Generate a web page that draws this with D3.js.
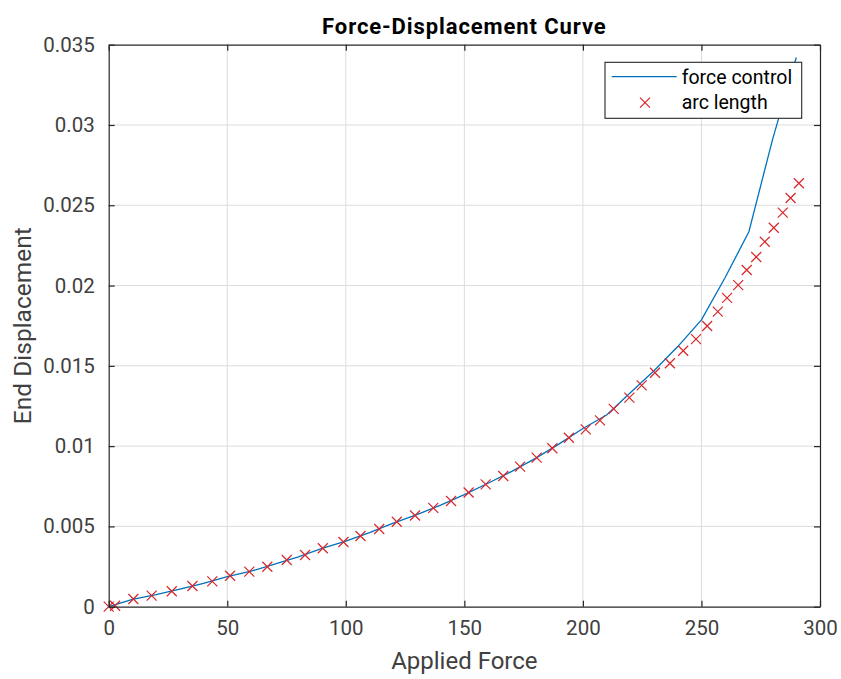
<!DOCTYPE html>
<html>
<head>
<meta charset="utf-8">
<script src="https://cdn.jsdelivr.net/npm/d3@7"></script>
<style>
  html, body { margin: 0; padding: 0; background: #fff; }
  svg { display: block; font-family: Roboto, "Noto Sans", sans-serif; }
</style>
</head>
<body>
<svg id="chart" width="841" height="679"></svg>
<script>
// Force control: displacement at each applied load step
const forceLoads = [0, 10, 20, 30, 40, 50, 60, 70, 80, 90, 100, 110, 120, 130, 140,
  150, 160, 170, 180, 190, 200, 210, 220, 230, 240, 250, 260, 270, 280, 290];
const forceDisp = [0, 0.00046, 0.00075, 0.00109, 0.00145, 0.00188, 0.00221, 0.00265,
  0.00311, 0.00363, 0.00408, 0.00461, 0.00520, 0.00573, 0.00633, 0.00698, 0.00769,
  0.00843, 0.00924, 0.01014, 0.01110, 0.01194, 0.01332, 0.01470, 0.01620, 0.01786,
  0.02050, 0.02335, 0.02910, 0.03420];

// Arc-length solution: load / displacement pairs
const arcLoads = [0, 2.7, 10.4, 18.1, 26.6, 35.3, 43.7, 51.2, 59.3, 66.9, 75.1, 82.8,
  90.3, 99.0, 106.2, 114.1, 121.5, 129.2, 136.9, 144.4, 151.8, 159.0, 166.4, 173.5,
  180.5, 187.1, 194.1, 201.2, 207.2, 213.0, 219.6, 224.8, 230.4, 236.7, 242.3, 247.7,
  252.4, 256.9, 260.8, 265.5, 269.1, 273.1, 276.7, 280.5, 284.3, 287.6, 291.1];
const arcDisp = [0, 0.00006, 0.00048, 0.00069, 0.00096, 0.00129, 0.00158, 0.00193,
  0.00218, 0.00249, 0.00291, 0.00322, 0.00364, 0.00403, 0.00440, 0.00484, 0.00529,
  0.00568, 0.00615, 0.00658, 0.00711, 0.00762, 0.00814, 0.00872, 0.00928, 0.00987,
  0.01052, 0.01104, 0.01160, 0.01232, 0.01302, 0.01378, 0.01457, 0.01516, 0.01594,
  0.01666, 0.01748, 0.01838, 0.01923, 0.02003, 0.02097, 0.02178, 0.02273, 0.02360,
  0.02454, 0.02545, 0.02637];

const xTicks = [0, 50, 100, 150, 200, 250, 300];
const yTicks = [0, 0.005, 0.01, 0.015, 0.02, 0.025, 0.03, 0.035];
const yTickLabels = ["0", "0.005", "0.01", "0.015", "0.02", "0.025", "0.03", "0.035"];
const seriesNames = ["force control", "arc length"];

const svg = d3.select("#chart");
const plotL = 108.7, plotR = 820, plotT = 44.7, plotB = 606.7;

const x = d3.scaleLinear().domain([0, 300]).range([plotL, plotR]);
const y = d3.scaleLinear().domain([0, 0.035]).range([plotB, plotT]);

const axisColor = "#262626";
const labelColor = "#404040";
const gridColor = "#dcdcdc";
const blue = "#0072bd";
const red = "#d9262b";

// grid
const grid = svg.append("g");
grid.selectAll("line.gx").data(xTicks.slice(1, -1)).join("line")
  .attr("class", "gx")
  .attr("x1", d => x(d)).attr("x2", d => x(d))
  .attr("y1", plotT).attr("y2", plotB)
  .attr("stroke", gridColor).attr("stroke-width", 1);
grid.selectAll("line.gy").data(yTicks.slice(1, -1)).join("line")
  .attr("class", "gy")
  .attr("x1", plotL).attr("x2", plotR)
  .attr("y1", d => y(d)).attr("y2", d => y(d))
  .attr("stroke", gridColor).attr("stroke-width", 1);

// clip for data
svg.append("clipPath").attr("id", "plotClip")
  .append("rect").attr("x", plotL).attr("y", plotT)
  .attr("width", plotR - plotL).attr("height", plotB - plotT);

const plot = svg.append("g").attr("clip-path", "url(#plotClip)");

const line = d3.line().x(d => x(d[0])).y(d => y(d[1]));
plot.append("path")
  .datum(d3.zip(forceLoads, forceDisp))
  .attr("d", line)
  .attr("fill", "none")
  .attr("stroke", blue)
  .attr("stroke-width", 1.3);

const ms = 5;
const crossPath = `M${-ms},${-ms}L${ms},${ms}M${-ms},${ms}L${ms},${-ms}`;
svg.append("g").selectAll("path").data(d3.zip(arcLoads, arcDisp)).join("path")
  .attr("transform", d => `translate(${x(d[0])},${y(d[1])})`)
  .attr("d", crossPath)
  .attr("fill", "none")
  .attr("stroke", red)
  .attr("stroke-width", 1.2);

// axes: box with inward ticks on all sides
const tickLen = 6;
const xAxisB = d3.axisBottom(x).tickValues(xTicks).tickSizeInner(-tickLen).tickSizeOuter(0)
  .tickPadding(tickLen + 8).tickFormat(d3.format("d"));
const xAxisT = d3.axisTop(x).tickValues(xTicks).tickSizeInner(-tickLen).tickSizeOuter(0).tickFormat("");
const yAxisL = d3.axisLeft(y).tickValues(yTicks).tickSizeInner(-tickLen).tickSizeOuter(0)
  .tickPadding(tickLen + 8).tickFormat((d, i) => yTickLabels[i]);
const yAxisR = d3.axisRight(y).tickValues(yTicks).tickSizeInner(-tickLen).tickSizeOuter(0).tickFormat("");

function styleAxis(g) {
  g.select(".domain").attr("stroke", axisColor).attr("stroke-width", 1.2);
  g.selectAll(".tick line").attr("stroke", axisColor).attr("stroke-width", 1.2);
  g.selectAll(".tick text").attr("fill", labelColor)
    .style("font-family", "Roboto, sans-serif").style("font-size", "20.5px");
}

svg.append("g").attr("transform", `translate(0,${plotB})`).call(xAxisB).call(styleAxis);
svg.append("g").attr("transform", `translate(0,${plotT})`).call(xAxisT).call(styleAxis);
svg.append("g").attr("transform", `translate(${plotL},0)`).call(yAxisL).call(styleAxis);
svg.append("g").attr("transform", `translate(${plotR},0)`).call(yAxisR).call(styleAxis);

// titles
svg.append("text")
  .attr("x", (plotL + plotR) / 2).attr("y", 34)
  .attr("text-anchor", "middle")
  .style("font-family", "Roboto, sans-serif")
  .style("font-size", "22px").style("font-weight", "700")
  .style("letter-spacing", "0.9px")
  .attr("fill", "#000")
  .text("Force-Displacement Curve");

svg.append("text")
  .attr("x", (plotL + plotR) / 2).attr("y", 669)
  .attr("text-anchor", "middle")
  .style("font-family", "Roboto, sans-serif").style("font-size", "24px")
  .attr("fill", labelColor)
  .text("Applied Force");

svg.append("text")
  .attr("transform", `translate(31,${(plotT + plotB) / 2}) rotate(-90)`)
  .attr("text-anchor", "middle")
  .style("font-family", "Roboto, sans-serif").style("font-size", "24.5px")
  .attr("fill", labelColor)
  .text("End Displacement");

// legend
const lg = svg.append("g").attr("transform", "translate(605,62.3)");
lg.append("rect").attr("width", 196.7).attr("height", 56)
  .attr("fill", "#fff").attr("stroke", axisColor).attr("stroke-width", 1.1);
lg.append("line").attr("x1", 6.7).attr("x2", 71.7).attr("y1", 14.4).attr("y2", 14.4)
  .attr("stroke", blue).attr("stroke-width", 1.3);
lg.append("path").attr("transform", "translate(40,40.4)").attr("d", crossPath)
  .attr("fill", "none").attr("stroke", red).attr("stroke-width", 1.2);
lg.selectAll("text.lt").data(seriesNames).join("text")
  .attr("class", "lt")
  .attr("x", 76.7).attr("y", (d, i) => 21.5 + i * 25.5)
  .style("font-family", "Roboto, sans-serif").style("font-size", "19.5px")
  .attr("fill", "#000")
  .text(d => d);
</script>
</body>
</html>
